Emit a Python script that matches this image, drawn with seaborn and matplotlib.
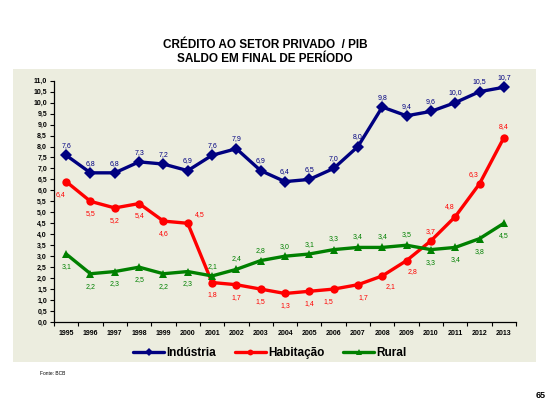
import numpy as np
import pandas as pd
import matplotlib
matplotlib.use('Agg')
import matplotlib.pyplot as plt
import seaborn as sns
from matplotlib.patches import Rectangle

years = [str(y) for y in range(1995, 2014)]
industria = [7.6, 6.8, 6.8, 7.3, 7.2, 6.9, 7.6, 7.9, 6.9, 6.4, 6.5, 7.0, 8.0, 9.8, 9.4, 9.6, 10.0, 10.5, 10.7]
habitacao = [6.4, 5.5, 5.2, 5.4, 4.6, 4.5, 1.8, 1.7, 1.5, 1.3, 1.4, 1.5, 1.7, 2.1, 2.8, 3.7, 4.8, 6.3, 8.4]
rural = [3.1, 2.2, 2.3, 2.5, 2.2, 2.3, 2.1, 2.4, 2.8, 3.0, 3.1, 3.3, 3.4, 3.4, 3.5, 3.3, 3.4, 3.8, 4.5]

series_names = ['Indústria', 'Habitação', 'Rural']
colors = {'Indústria': '#000080', 'Habitação': '#FF0000', 'Rural': '#008000'}
markers = {'Indústria': 'D', 'Habitação': 'o', 'Rural': '^'}

df = pd.DataFrame({'ano': years * 3,
                   'x': list(range(len(years))) * 3,
                   'valor': industria + habitacao + rural,
                   'serie': ['Indústria'] * 19 + ['Habitação'] * 19 + ['Rural'] * 19})

sns.set_style('white')
plt.rcParams['font.family'] = ['Liberation Sans', 'DejaVu Sans']
plt.rcParams['text.color'] = 'black'
plt.rcParams['xtick.color'] = 'black'
plt.rcParams['ytick.color'] = 'black'

fig = plt.figure(figsize=(5.57, 4.19), dpi=100)
fig.patches.append(Rectangle((13 / 557, 1 - 362 / 419), (536 - 13) / 557, (362 - 69) / 419,
                             transform=fig.transFigure, facecolor='#ECEDDF', edgecolor='none', zorder=-5))
ax = fig.add_axes([54 / 557, 1 - 322 / 419, (516 - 54) / 557, (322 - 80.7) / 419])
ax.set_facecolor('none')
ax.set_zorder(2)

sns.lineplot(data=df, x='x', y='valor', hue='serie', style='serie', hue_order=series_names,
             palette=colors, markers=markers, dashes=False, linewidth=2.4, markersize=6,
             markeredgewidth=0, ax=ax, legend=True)

# label positions (offsets in points)
ind_off = [(0, 7)] * 19
hab_off = [(-4, -9), (0, -9), (0, -9), (0, -9), (0, -9), (9, 6), (0, -9), (0, -9), (0, -9), (0, -9),
           (0, -9), (-4, -9), (4, -9), (6, -8), (4, -8), (0, 7), (-4, 7), (-4, 7), (0, 8)]
rur_off = [(0, -9), (0, -9), (0, -9), (0, -9), (0, -9), (0, -9), (0, 7), (0, 8), (0, 7), (0, 7),
           (0, 7), (0, 8), (0, 8), (0, 8), (0, 8), (0, -9), (0, -9), (0, -9), (0, -9)]

for vals, offs, name in [(industria, ind_off, 'Indústria'), (habitacao, hab_off, 'Habitação'),
                         (rural, rur_off, 'Rural')]:
    for i, (v, o) in enumerate(zip(vals, offs)):
        ax.annotate(f'{v:.1f}'.replace('.', ','), (i, v), xytext=o, textcoords='offset points',
                    ha='center', va='center', fontsize=5, color=colors[name])

ax.set_xlim(-0.5, 18.5)
ax.set_ylim(0, 11)
ax.set_xticks(range(19))
ax.set_xticklabels(years, fontsize=5, fontweight='bold')
ax.set_xticks(np.arange(-0.5, 19, 1), minor=True)
ax.tick_params(axis='x', which='major', length=0, pad=6)
ax.tick_params(axis='x', which='minor', length=3, direction='out', width=0.8, color='black')
ax.set_yticks(np.arange(0, 11.01, 0.5))
ax.set_yticklabels([f'{v:.1f}'.replace('.', ',') for v in np.arange(0, 11.01, 0.5)],
                   fontsize=5, fontweight='bold')
ax.tick_params(axis='y', length=3, direction='out', width=0.8, color='black', left=True, pad=2)
ax.tick_params(axis='x', bottom=True, which='both')
for s in ['top', 'right']:
    ax.spines[s].set_visible(False)
for s in ['left', 'bottom']:
    ax.spines[s].set_color('black')
    ax.spines[s].set_linewidth(0.9)
ax.set_xlabel('')
ax.set_ylabel('')

leg = ax.legend(loc='center', bbox_to_anchor=(270 / 557, 1 - 353 / 419), bbox_transform=fig.transFigure,
                ncol=3, frameon=False, fontsize=8.5, handlelength=2.6, columnspacing=1.6,
                handletextpad=0.2, markerscale=0.7)
for t in leg.get_texts():
    t.set_fontweight('bold')

fig.text(265 / 557, 1 - 45 / 419, 'CRÉDITO AO SETOR PRIVADO  / PIB', ha='center', va='center',
         fontsize=8.5, fontweight='bold')
fig.text(265 / 557, 1 - 59 / 419, 'SALDO EM FINAL DE PERÍODO', ha='center', va='center',
         fontsize=8.5, fontweight='bold')
fig.text(40 / 557, 1 - 373 / 419, 'Fonte: BCB', ha='left', va='center', fontsize=3.5)
fig.text(546 / 557, 1 - 395 / 419, '65', ha='right', va='center', fontsize=6.5, fontweight='bold')

fig.savefig('out.png', dpi=100)
